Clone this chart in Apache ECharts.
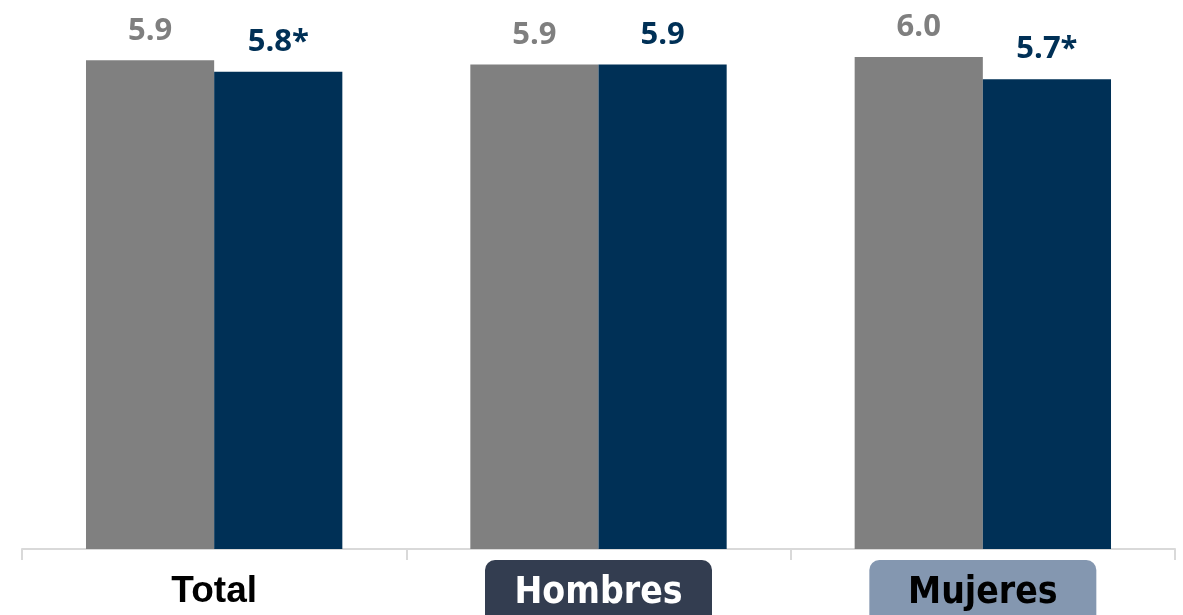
<!DOCTYPE html>
<html><head><meta charset="utf-8">
<script src="https://cdn.jsdelivr.net/npm/echarts@6/dist/echarts.min.js"></script>
<style>html,body{margin:0;padding:0;background:#fff}#c{width:1183px;height:615px}</style>
</head><body><div id="c"></div>
<script>
const categories = ['Total', 'Hombres', 'Mujeres'];
const seriesA = [5.96, 5.91, 6.0];
const seriesB = [5.82, 5.91, 5.73];
const labelsA = ['5.9', '5.9', '6.0'];
const labelsB = ['5.8*', '5.9', '5.7*'];
const chart = echarts.init(document.getElementById('c'));
const narrow = "'Liberation Sans Narrow', 'Arial Narrow', 'DejaVu Sans Condensed', sans-serif";
chart.setOption({
  animation: false,
  grid: {left: 22, right: 8, top: 16, bottom: 66, outerBoundsMode: 'none', containLabel: false},
  xAxis: {
    type: 'category', data: categories,
    axisLine: {lineStyle: {color: '#d9d9d9', width: 2}},
    axisTick: {show: true, length: 11, lineStyle: {color: '#d9d9d9', width: 2}},
    axisLabel: {
      margin: 8,
      formatter: (v) => v === 'Total' ? '{t|' + v + '}' : (v === 'Hombres' ? '{h|' + v + '}' : '{m|' + v + '}'),
      rich: {
        t: {fontFamily: "'Liberation Sans', Arial, sans-serif", fontWeight: 'bold', fontSize: 37, color: '#000', height: 66, lineHeight: 70, width: 227, align: 'center'},
        h: {fontFamily: narrow, fontWeight: 'bold', fontSize: 37, color: '#fff', backgroundColor: '#333d50', borderRadius: 10, width: 227, height: 66, lineHeight: 72, align: 'center'},
        m: {fontFamily: narrow, fontWeight: 'bold', fontSize: 37, color: '#000', backgroundColor: '#8497b0', borderRadius: 10, width: 227, height: 66, lineHeight: 72, align: 'center'}
      }
    }
  },
  yAxis: {type: 'value', min: 0, max: 6.5, show: false, splitLine: {show: false}},
  series: [
    {type: 'bar', data: seriesA, barGap: '0%', barCategoryGap: '33.3%',
     itemStyle: {color: '#808080'},
     label: {show: true, position: 'top', distance: 14, formatter: (p) => labelsA[p.dataIndex],
       fontFamily: "'Open Sans', sans-serif", fontWeight: 'bold', fontSize: 31, color: '#7f7f7f'}},
    {type: 'bar', data: seriesB,
     itemStyle: {color: '#003056'},
     label: {show: true, position: 'top', distance: 14, formatter: (p) => labelsB[p.dataIndex],
       fontFamily: "'Open Sans', sans-serif", fontWeight: 'bold', fontSize: 31, color: '#003056'}}
  ]
});
</script></body></html>
